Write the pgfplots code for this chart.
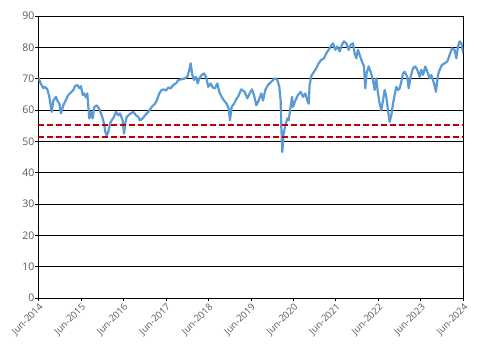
\documentclass[border=0pt]{standalone}
\usepackage{pgfplots}
\pgfplotsset{compat=1.18}
\usepackage{fontspec}
\setmainfont{Open Sans}
\definecolor{lineblue}{HTML}{5B9BD5}
\definecolor{dred}{HTML}{C00000}
\definecolor{tickgray}{HTML}{595959}
\begin{document}
\begin{tikzpicture}
\begin{axis}[
  at={(0,0)}, anchor=south west,
  scale only axis, width=424.8bp, height=282bp,
  xmin=115.5, xmax=1390, ymin=0, ymax=90,
  ytick={0,10,...,90},
  xtick={115.5,242.95,370.4,497.85,625.3,752.75,880.2,1007.65,1135.1,1262.55,1390},
  xticklabels={Jun-2014,Jun-2015,Jun-2016,Jun-2017,Jun-2018,Jun-2019,Jun-2020,Jun-2021,Jun-2022,Jun-2023,Jun-2024},
  x tick label style={rotate=45, anchor=north east, font=\fontsize{9.5bp}{11bp}\selectfont, text=tickgray, inner sep=1bp},
  y tick label style={font=\fontsize{10.5bp}{12bp}\selectfont, text=tickgray, inner sep=1bp},
  /pgf/number format/assume math mode=true,
  tick align=outside, major tick length=3bp,
  xtick pos=bottom, ytick pos=left,
  tick style={black, line width=0.8bp},
  ymajorgrids, grid style={black, line width=0.9bp},
  axis line style={black, line width=0.9bp},
  clip=true,
]
\addplot[lineblue, line width=2.2bp, line join=round] coordinates {
(115,70.4)(122,68.5)(130,67)(135,67.4)(142,66.6)(148,64.2)(155,59.4)(160,63)(168,64.2)(172,63)(178,62)(183,58.9)(190,61.5)(200,63.7)(205,64.8)(210,65.3)(220,66.4)(225,67.6)(232,68)(238,67)(243,67.6)(248,64.8)(252,65.3)(258,64)(262,65.3)(265,61)(268,57.3)(273,59.4)(278,57.3)(283,61)(290,61.5)(297,60.5)(303,58.9)(308,57.3)(312,55.7)(316,53)(320,51.9)(325,53)(330,55.7)(335,56.7)(342,57.8)(348,59.4)(355,58.3)(360,58.9)(368,56.7)(372,52.5)(376,55.7)(380,57.8)(385,58.3)(392,58.9)(400,59.4)(408,58.3)(415,57.8)(420,56.7)(428,57.3)(435,58.3)(445,59.4)(455,61)(465,62)(470,63)(478,65.3)(485,66.4)(492,66.6)(498,66.2)(505,67.2)(512,66.9)(520,68)(528,68.5)(535,69.6)(545,69.8)(555,70.1)(562,70.6)(568,72.8)(572,74.9)(577,71.2)(582,69.6)(588,70.6)(593,68.5)(598,70.1)(605,71.2)(612,71.7)(618,70.6)(625,67.4)(632,68.5)(638,67.2)(645,66.9)(652,68.5)(658,65.8)(665,64.2)(672,63)(680,62)(686,60.5)(690,56.7)(695,61)(702,62)(710,63.7)
(714,64.2)(724,66.6)(734,65.8)(742,63.7)(749,65.3)(756,66.6)(762,64.8)(769,61.5)(776,63)(784,65.3)(789,63)(796,66.4)(804,68)(814,69)(824,70.1)(832,69.6)(838,67.4)(842,63)(844,54.6)(847,46.6)(851,52.5)(856,55.1)(862,57.3)(866,56.7)(872,61)(876,64.2)(879,61)(886,63)(894,64.8)(902,65.8)(909,64.2)(916,65.3)(922,63)(926,62)(929,68)(934,70.9)(942,72.2)(949,73.3)(956,74.9)(964,76)(972,76.5)(979,78.1)(986,79.2)(992,80.3)(999,81.3)(1006,79.2)(1012,80.3)(1019,78.7)(1026,80.8)(1032,81.9)(1039,81.3)(1046,79.2)(1052,80.8)(1059,81.3)(1064,78.1)(1069,76.5)(1074,79.2)(1079,77.6)(1086,75.5)(1092,73.9)(1096,66.9)(1100,71.7)(1106,73.9)(1112,72.2)(1119,69.6)(1124,66.4)(1129,70.1)(1134,65.3)(1139,62)(1144,59.9)(1149,63)(1154,66.4)(1159,64.2)(1164,59.9)(1169,56.2)(1174,58.3)(1179,62)(1184,64.8)(1189,67.4)(1194,66.4)(1199,66.9)(1204,69)(1209,71.7)(1214,72.2)(1222,70.6)(1226,66.9)(1232,70.6)(1239,73.3)(1246,73.9)(1252,72.8)(1259,70.6)(1264,72.8)(1269,71.2)(1276,73.9)(1282,72.2)(1289,70.1)(1294,71.2)(1302,68.5)(1308,65.8)(1314,71.2)(1319,72.8)(1326,74.4)(1334,74.9)(1342,75.5)(1349,77.6)(1356,79.7)(1364,79.2)(1369,76.5)(1374,80.3)(1379,81.9)(1384,81.3)(1390,78.1)
};
\addplot[dred, line width=2bp, dash pattern=on 6bp off 3bp, forget plot] coordinates {(115.5,55.2) (1390,55.2)};
\addplot[dred, line width=2bp, dash pattern=on 6bp off 3bp, forget plot] coordinates {(115.5,51.3) (1390,51.3)};
\end{axis}
\pgfresetboundingbox
\path[use as bounding box] (-38.5bp,-54bp) rectangle (438.5bp,298bp);
\end{tikzpicture}
\end{document}
